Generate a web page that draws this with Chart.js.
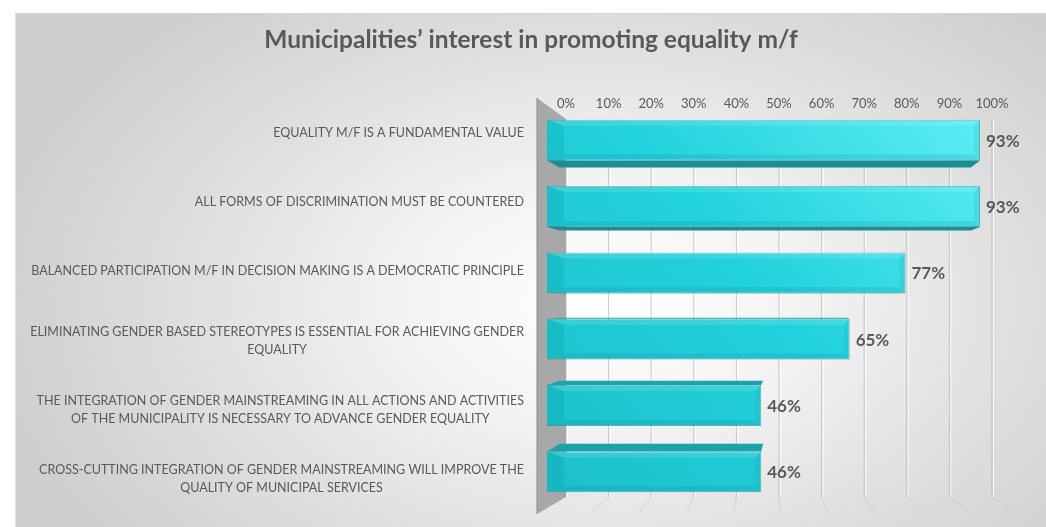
<!DOCTYPE html>
<html>
<head>
<meta charset="utf-8">
<script src="https://cdn.jsdelivr.net/npm/chart.js@4.4.1/dist/chart.umd.min.js"></script>
<style>
  html, body { margin: 0; padding: 0; background: #fff; }
  #panel {
    position: absolute; left: 15px; top: 13px; width: 1031px; height: 514px;
    background: radial-gradient(ellipse 60% 76% at 57% 56%, #ffffff 0%, #f4f4f4 30%, #e0e0e0 65%, #cfcfcf 100%);
    border-top: 1px solid #d4d4d4;
    border-left: 1px solid #dedede;
  }
  #chart { position: absolute; left: 0; top: 0; }
</style>
</head>
<body>
<div id="panel"></div>
<canvas id="chart" width="1046" height="527"></canvas>
<script>
const TITLE = "Municipalities’ interest in promoting equality m/f";

const CATEGORIES = [
  ["EQUALITY M/F IS A FUNDAMENTAL VALUE"],
  ["ALL FORMS OF DISCRIMINATION MUST BE COUNTERED"],
  ["BALANCED PARTICIPATION M/F IN DECISION MAKING IS A DEMOCRATIC PRINCIPLE"],
  ["ELIMINATING GENDER BASED STEREOTYPES IS ESSENTIAL FOR ACHIEVING GENDER", "EQUALITY"],
  ["THE INTEGRATION OF GENDER MAINSTREAMING IN ALL ACTIONS AND ACTIVITIES", "OF THE MUNICIPALITY IS NECESSARY TO ADVANCE GENDER EQUALITY"],
  ["CROSS-CUTTING INTEGRATION OF GENDER MAINSTREAMING WILL IMPROVE THE", "QUALITY OF MUNICIPAL SERVICES"]
];
const VALUES = [93, 93, 77, 65, 46, 46];

const TICKS = [0, 10, 20, 30, 40, 50, 60, 70, 80, 90, 100];
const TICK_LABELS = ["0%", "10%", "20%", "30%", "40%", "50%", "60%", "70%", "80%", "90%", "100%"];

const TEXT = "#595959";
const FONT = "Lato, 'Open Sans', sans-serif";

// perspective helpers (the excel 3d look)
const VP = { x: 800, y: 300 };
const DEPTH = 0.05;
const proj = (x, y) => [x + (VP.x - x) * DEPTH, y + (VP.y - y) * DEPTH];

function poly(ctx, pts) {
  ctx.beginPath();
  ctx.moveTo(pts[0][0], pts[0][1]);
  for (let i = 1; i < pts.length; i++) ctx.lineTo(pts[i][0], pts[i][1]);
  ctx.closePath();
}

// back wall gridlines, floor lines and the grey side wall
const backdrop = {
  id: "backdrop",
  beforeDatasetsDraw(chart) {
    const { ctx, chartArea: a, scales } = chart;
    const x2 = scales.x2;
    const backTop = a.top + 12, backBottom = a.bottom - 8;
    ctx.save();
    // gridlines on the back plane
    TICKS.forEach(t => {
      const px = x2.getPixelForValue(t);
      ctx.strokeStyle = "rgba(185,185,185,0.75)";
      ctx.lineWidth = 1;
      ctx.beginPath(); ctx.moveTo(px, backTop); ctx.lineTo(px, backBottom); ctx.stroke();
      ctx.strokeStyle = "rgba(255,255,255,0.8)";
      ctx.beginPath(); ctx.moveTo(px + 1.5, backTop); ctx.lineTo(px + 1.5, backBottom); ctx.stroke();
    });
    // floor lines running to the front
    const fv = { x: 765, y: 351 }, k = 0.91;
    ctx.strokeStyle = "rgba(175,175,175,0.35)";
    TICKS.slice(1).forEach(t => {
      const bx = x2.getPixelForValue(t);
      const fx = fv.x + (bx - fv.x) / k, fy = fv.y + (backBottom - fv.y) / k;
      ctx.beginPath(); ctx.moveTo(bx, backBottom); ctx.lineTo(fx, fy); ctx.stroke();
    });
    // side wall
    const back0 = x2.getPixelForValue(0);
    const front = a.left - 10;
    poly(ctx, [[front, a.top - 9], [back0, backTop], [back0, backBottom], [front, a.bottom + 9]]);
    ctx.fillStyle = "#a8a8a8";
    ctx.fill();
    ctx.strokeStyle = "#8a8a8a";
    ctx.beginPath(); ctx.moveTo(front, a.top - 9); ctx.lineTo(front, a.bottom + 9); ctx.stroke();
    ctx.restore();
  }
};

// top / bottom faces of the bars
const barDepth = {
  id: "barDepth",
  beforeDatasetsDraw(chart) {
    const { ctx } = chart;
    const meta = chart.getDatasetMeta(0);
    ctx.save();
    meta.data.forEach(bar => {
      const left = bar.base, right = bar.x;
      const top = bar.y - bar.height / 2, bottom = bar.y + bar.height / 2;
      if (bottom < VP.y) {
        poly(ctx, [[left, bottom], [right, bottom], proj(right, bottom), proj(left, bottom)]);
        ctx.fillStyle = "#1b8d94";
        ctx.fill();
      }
      if (top > VP.y) {
        poly(ctx, [[left, top], [right, top], proj(right, top), proj(left, top)]);
        ctx.fillStyle = "#1ba2aa";
        ctx.fill();
      }
    });
    ctx.restore();
  },
  afterDatasetsDraw(chart) {
    const { ctx } = chart;
    const meta = chart.getDatasetMeta(0);
    ctx.save();
    meta.data.forEach(bar => {
      const left = bar.base, right = bar.x;
      const top = bar.y - bar.height / 2, h = bar.height;
      const b = 6;
      // bevel: darker left cap and bottom strip, lighter top strip
      ctx.fillStyle = "rgba(0,150,165,0.22)";
      poly(ctx, [[left, top], [left + 17, top + b], [left + 17, top + h - b], [left, top + h]]);
      ctx.fill();
      ctx.fillStyle = "rgba(0,120,135,0.14)";
      poly(ctx, [[left, top + h], [left + 17, top + h - b], [right - b, top + h - b], [right, top + h]]);
      ctx.fill();
      ctx.fillStyle = "rgba(255,255,255,0.12)";
      poly(ctx, [[left, top], [right, top], [right - b, top + b], [left + 17, top + b]]);
      ctx.fill();
      ctx.fillStyle = "rgba(0,130,145,0.10)";
      poly(ctx, [[right, top], [right, top + h], [right - b, top + h - b], [right - b, top + b]]);
      ctx.fill();
    });
    // value labels
    ctx.fillStyle = TEXT;
    ctx.font = "bold 17px " + FONT;
    ctx.textAlign = "left";
    ctx.textBaseline = "middle";
    meta.data.forEach((bar, i) => {
      ctx.fillText(VALUES[i] + "%", bar.x + 6, bar.y + 1);
    });
    ctx.restore();
  }
};

// category labels: right aligned, wrapped lines centred to each other
const categoryLabels = {
  id: "categoryLabels",
  afterDraw(chart) {
    const { ctx, chartArea: a, scales } = chart;
    const y = scales.y;
    const lineH = 18;
    const rightX = a.left - 23;
    ctx.save();
    ctx.fillStyle = TEXT;
    ctx.font = "12.5px " + FONT;
    ctx.textBaseline = "middle";
    ctx.textAlign = "center";
    CATEGORIES.forEach((lines, i) => {
      const barY = y.getPixelForValue(i);
      const cy = 307 + (barY - 307) * 1.042;
      const w = Math.max(...lines.map(l => ctx.measureText(l).width));
      const cx = rightX - w / 2;
      lines.forEach((l, j) => {
        ctx.fillText(l, cx, cy - (lines.length - 1) * lineH / 2 + j * lineH);
      });
    });
    ctx.restore();
  }
};

new Chart(document.getElementById("chart"), {
  type: "bar",
  data: {
    labels: CATEGORIES,
    datasets: [
      {
        data: VALUES,
        xAxisID: "x",
        yAxisID: "y",
        backgroundColor: (c) => {
          const a = c.chart.chartArea;
          if (!a) return "#22cdd7";
          const g = c.chart.ctx.createLinearGradient(a.left, a.bottom, a.right, a.top);
          g.addColorStop(0, "#1cbfc9");
          g.addColorStop(0.5, "#22d2dc");
          g.addColorStop(1, "#62f0f7");
          return g;
        },
        borderColor: "rgba(0,150,160,0.55)",
        borderWidth: 1,
        barPercentage: 0.615,
        categoryPercentage: 1,
      },
    ],
  },
  options: {
    indexAxis: "y",
    responsive: false,
    animation: false,
    devicePixelRatio: 1,
    layout: { padding: { top: 13, left: 16, right: 0, bottom: 22 } },
    plugins: {
      legend: { display: false },
      tooltip: { enabled: false },
      title: {
        display: true,
        text: TITLE,
        color: TEXT,
        font: { family: FONT, size: 24.5, weight: "bold" },
        padding: { top: 12.3, bottom: 0 },
      },
    },
    scales: {
      x: { type: "linear", min: 0, max: 100, display: false },
      x2: {
        type: "linear",
        axis: "x",
        position: "top",
        min: -4.46,
        max: 104.84,
        grid: { display: false },
        border: { display: false },
        afterBuildTicks: (s) => { s.ticks = TICKS.map(v => ({ value: v })); },
        afterFit: (s) => { s.height = 52.3; },
        ticks: {
          mirror: true, // no clipping to the axis box
          padding: -11,
          color: TEXT,
          autoSkip: false,
          maxRotation: 0,
          font: { family: FONT, size: 13 },
          callback: (v, i) => TICK_LABELS[i],
        },
      },
      y: {
        type: "category",
        grid: { display: false },
        border: { display: false },
        ticks: { display: false },
        afterFit: (s) => { s.width = 531; },
      },
      // empty strip on the right, keeps the plot where it is
      y2: {
        type: "linear",
        axis: "y",
        position: "right",
        grid: { display: false },
        border: { display: false },
        ticks: { display: false },
        afterFit: (s) => { s.width = 33.4; },
      },
    },
  },
  plugins: [backdrop, barDepth, categoryLabels],
});
</script>
</body>
</html>
